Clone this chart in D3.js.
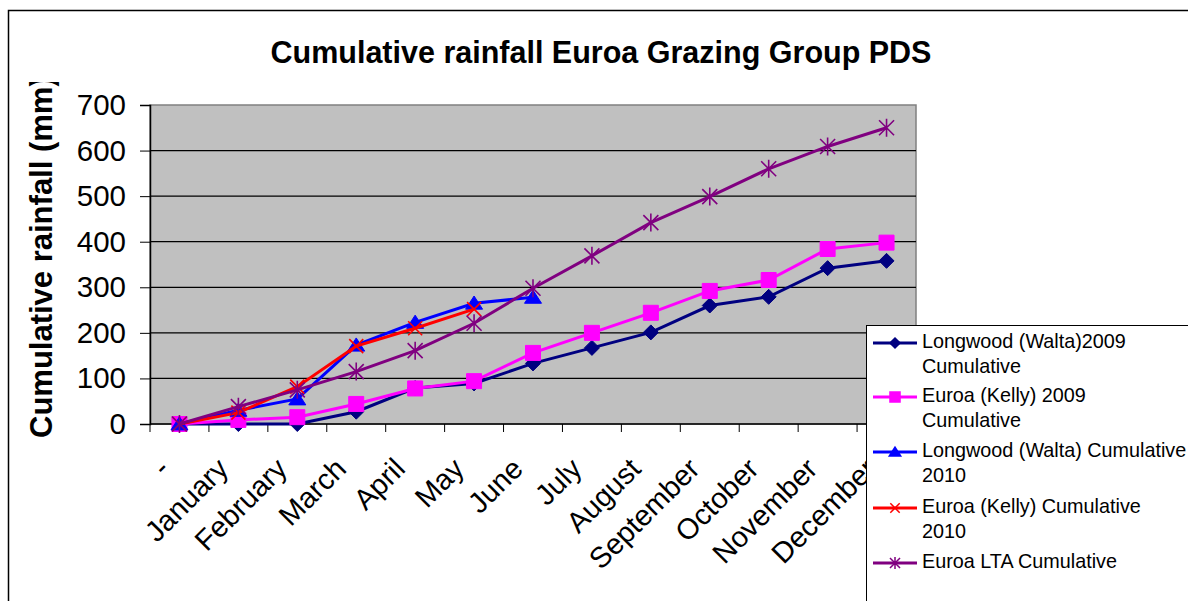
<!DOCTYPE html>
<html>
<head>
<meta charset="utf-8">
<script src="https://cdn.jsdelivr.net/npm/d3@7"></script>
<style>
  body { margin: 0; background: #fff; }
  svg { display: block; font-family: "Liberation Sans", Arial, sans-serif; }
</style>
</head>
<body>
<svg id="chart" width="1188" height="601"></svg>
<script>
const months = ['-', 'January', 'February', 'March', 'April', 'May', 'June',
  'July', 'August', 'September', 'October', 'November', 'December'];
const yTicks = [0, 100, 200, 300, 400, 500, 600, 700];

const longwood2009 = [0, 0, 0, 27, 79, 89, 133, 167, 201, 260, 279, 342, 358];
const euroa2009 = [0, 9, 15, 44, 78, 94, 156, 200, 244, 292, 316, 384, 398];
const longwood2010 = [0, 30, 55, 173, 223, 265, 278];
const euroa2010 = [0, 25, 82, 171, 210, 252];
const euroaLTA = [0, 38, 75, 115, 161, 221, 298, 369, 442, 499, 560, 609, 650];

const seriesNames = ['Longwood (Walta)2009|Cumulative', 'Euroa (Kelly) 2009|Cumulative',
  'Longwood (Walta) Cumulative|2010', 'Euroa (Kelly) Cumulative|2010', 'Euroa LTA Cumulative'];

// excel style markers
const diamond = { draw(ctx, size) { const r = Math.sqrt(size) / 2; ctx.moveTo(0, -r); ctx.lineTo(r, 0); ctx.lineTo(0, r); ctx.lineTo(-r, 0); ctx.closePath(); } };
const square = { draw(ctx, size) { const r = Math.sqrt(size) / 2; ctx.rect(-r, -r, 2 * r, 2 * r); } };
const triangle = { draw(ctx, size) { const r = Math.sqrt(size) / 2; ctx.moveTo(0, -r * 0.85); ctx.lineTo(r, r * 0.7); ctx.lineTo(-r, r * 0.7); ctx.closePath(); } };
const cross = { draw(ctx, size) { const r = Math.sqrt(size) / 2; ctx.moveTo(-r, -r); ctx.lineTo(r, r); ctx.moveTo(-r, r); ctx.lineTo(r, -r); } };
const asterisk = { draw(ctx, size) { const r = Math.sqrt(size) / 2; ctx.moveTo(-r, -r); ctx.lineTo(r, r); ctx.moveTo(-r, r); ctx.lineTo(r, -r); ctx.moveTo(0, -r * 1.2); ctx.lineTo(0, r * 1.2); } };

const series = [
  { name: seriesNames[0], values: longwood2009, color: '#000080', sym: diamond, size: 225, fill: true },
  { name: seriesNames[1], values: euroa2009, color: '#ff00ff', sym: square, size: 225, fill: true },
  { name: seriesNames[2], values: longwood2010, color: '#0000ff', sym: triangle, size: 289, fill: true },
  { name: seriesNames[3], values: euroa2010, color: '#ff0000', sym: cross, size: 196, fill: false },
  { name: seriesNames[4], values: euroaLTA, color: '#800080', sym: asterisk, size: 225, fill: false }
];

const svg = d3.select('#chart');
const plot = { left: 150, top: 105, right: 916, bottom: 424 };

// outer chart border
svg.append('rect').attr('x', 8.5).attr('y', 10.5).attr('width', 1200).attr('height', 620)
  .attr('fill', '#fff').attr('stroke', '#000').attr('stroke-width', 1.5);

svg.append('text').attr('x', 601).attr('y', 63).attr('text-anchor', 'middle')
  .attr('font-size', 30.5).attr('font-weight', 'bold')
  .text('Cumulative rainfall Euroa Grazing Group PDS');

const x = d3.scaleBand().domain(months).range([plot.left, plot.right]);
const y = d3.scaleLinear().domain([0, 700]).range([plot.bottom, plot.top]);

svg.append('rect').attr('x', plot.left).attr('y', plot.top)
  .attr('width', plot.right - plot.left).attr('height', plot.bottom - plot.top)
  .attr('fill', '#c0c0c0').attr('stroke', '#808080').attr('stroke-width', 1.5);

// gridlines
svg.append('g').selectAll('line').data(yTicks.slice(1, -1)).join('line')
  .attr('x1', plot.left).attr('x2', plot.right)
  .attr('y1', d => y(d)).attr('y2', d => y(d))
  .attr('stroke', '#000').attr('stroke-width', 1.2);

// y axis
const yAxis = svg.append('g').attr('transform', `translate(${plot.left},0)`)
  .call(d3.axisLeft(y).tickValues(yTicks).tickSize(10).tickPadding(14));
yAxis.select('.domain').attr('stroke-width', 1.5);
yAxis.selectAll('text').attr('font-size', 29.5).attr('fill', '#000').attr('font-family', 'Liberation Sans, Arial, sans-serif');

// x axis: ticks on category boundaries
const xAxis = svg.append('g').attr('transform', `translate(0,${plot.bottom})`);
xAxis.append('line').attr('x1', plot.left).attr('x2', plot.right).attr('stroke', '#000').attr('stroke-width', 1.5);
xAxis.selectAll('line.tk').data(months.concat(['end'])).join('line').attr('class', 'tk')
  .attr('x1', (d, i) => plot.left + i * x.bandwidth()).attr('x2', (d, i) => plot.left + i * x.bandwidth())
  .attr('y1', 0).attr('y2', 8).attr('stroke', '#000');
xAxis.selectAll('text').data(months).join('text')
  .attr('text-anchor', 'end').attr('font-size', 29)
  .attr('transform', d => `translate(${x(d) + x.bandwidth() / 2 - 23},${32}) rotate(-45)`)
  .attr('dy', '0.71em')
  .text(d => d);

// y label (clipped at the top like the original)
svg.append('clipPath').attr('id', 'ylab').append('rect').attr('x', 0).attr('y', 82).attr('width', 120).attr('height', 400);
svg.append('g').attr('clip-path', 'url(#ylab)')
  .append('text')
  .attr('transform', 'translate(52,438) rotate(-90)')
  .attr('font-size', 31).attr('font-weight', 'bold')
  .text('Cumulative rainfall (mm)');

// lines & markers
const line = d3.line().x((d, i) => x(months[i]) + x.bandwidth() / 2).y(d => y(d));
series.forEach(s => {
  const g = svg.append('g');
  g.append('path').datum(s.values).attr('d', line)
    .attr('fill', 'none').attr('stroke', s.color).attr('stroke-width', 3);
  g.selectAll('path.m').data(s.values).join('path').attr('class', 'm')
    .attr('transform', (d, i) => `translate(${x(months[i]) + x.bandwidth() / 2},${y(d)})`)
    .attr('d', d3.symbol().type(s.sym).size(s.size))
    .attr('fill', s.fill ? s.color : 'none')
    .attr('stroke', s.color).attr('stroke-width', s.fill ? 1 : 1.6);
});

// legend
const lg = svg.append('g').attr('transform', 'translate(866,325)');
lg.append('rect').attr('x', 0.5).attr('y', 0.5).attr('width', 400).attr('height', 400)
  .attr('fill', '#fff').attr('stroke', '#000').attr('stroke-width', 1);
const rowY = [18, 72, 127, 183, 238];
series.forEach((s, i) => {
  const row = lg.append('g').attr('transform', `translate(0,${rowY[i]})`);
  row.append('line').attr('x1', 7).attr('x2', 51).attr('stroke', s.color).attr('stroke-width', 3);
  row.append('path').attr('transform', 'translate(29,0)')
    .attr('d', d3.symbol().type(s.sym).size(s.size * 0.45))
    .attr('fill', s.fill ? s.color : 'none').attr('stroke', s.color).attr('stroke-width', 1.5);
  const t = row.append('text').attr('x', 56).attr('y', 5).attr('font-size', 19.8);
  s.name.split('|').forEach((part, j) => {
    t.append('tspan').attr('x', 56).attr('dy', j === 0 ? 0 : 24.5).text(part);
  });
});
</script>
</body>
</html>
